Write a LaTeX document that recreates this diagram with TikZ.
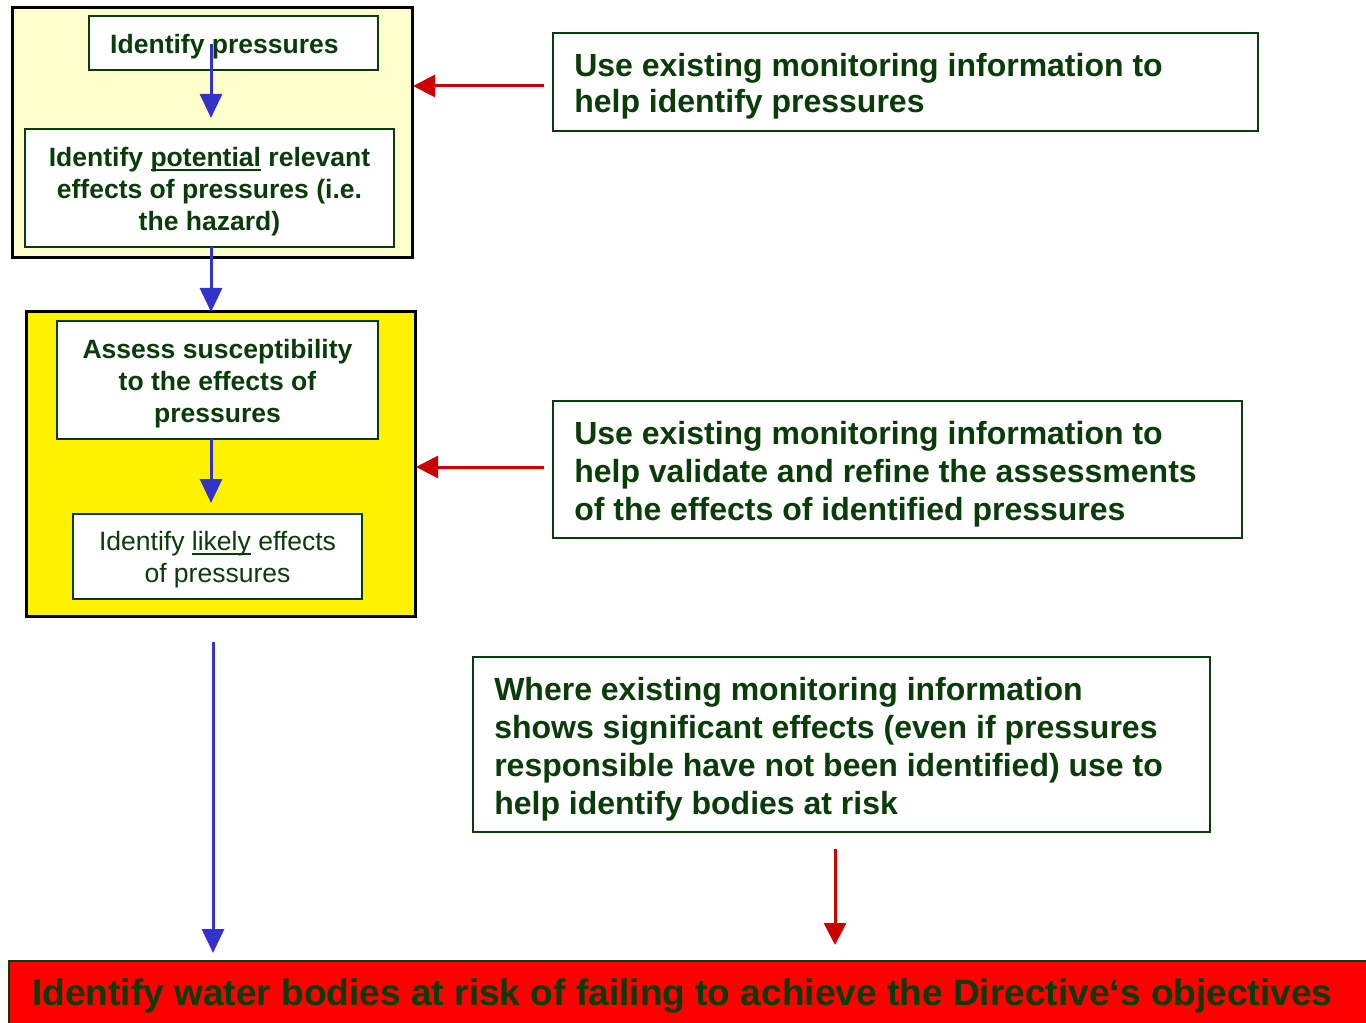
\documentclass[tikz,border=0pt]{standalone}
\usepackage{fontspec}
\setmainfont{Liberation Sans}
\usetikzlibrary{arrows.meta}
\definecolor{txtgreen}{RGB}{10,60,10}
\definecolor{lightyel}{RGB}{255,255,204}
\definecolor{arrblue}{RGB}{51,51,204}
\definecolor{arrred}{RGB}{204,0,0}
\newcommand\myul[1]{\leavevmode\setbox0\hbox{#1}\rlap{\rule[-3.2pt]{\wd0}{1.3pt}}\box0\relax}
\tikzset{
  outer/.style={draw=black, line width=2.25pt, inner sep=0pt},
  frame/.style={draw=txtgreen, line width=1.5pt, fill=white, inner sep=0pt},
  smalltext/.style={text=txtgreen, align=center, inner sep=0pt,
    font=\fontsize{19.9pt}{24pt}\selectfont\bfseries},
  bigtext/.style={text=txtgreen, align=left, inner sep=0pt,
    font=\fontsize{24pt}{28.6pt}\selectfont\bfseries},
  bluearr/.style={draw=arrblue, line width=2.25pt, -{Triangle[width=16.5pt,length=18pt]}, fill=arrblue},
  redarr/.style={draw=arrred, line width=2.25pt, -{Triangle[width=16.5pt,length=16.5pt]}, fill=arrred},
}
\begin{document}
\begin{tikzpicture}[x=0.75pt,y=-0.75pt]
\useasboundingbox (0,0) rectangle (1366,1023);
% outer groups
\node[outer, fill=lightyel, minimum width=300pt, minimum height=187.5pt] (ga) at (212,133) {};
\node[outer, fill=yellow, minimum width=291.75pt, minimum height=228pt] (gb) at (220.5,464) {};
% inner boxes
\node[frame, minimum width=216.75pt, minimum height=40.5pt] (p1) at (233.5,43) {};
\node[frame, minimum width=276.75pt, minimum height=88.5pt] (p2) at (209.5,188) {};
\node[frame, minimum width=240.75pt, minimum height=88.5pt] (p3) at (217.5,380) {};
\node[frame, minimum width=216.75pt, minimum height=63.75pt] (p4) at (217.5,556.5) {};
\node[smalltext] (p1t) at ([xshift=-6.75pt,yshift=-3pt]p1.center) {Identify pressures};
\node[smalltext] (p2t) at ([yshift=-3pt]p2.center)
  {Identify \myul{potential} relevant\\effects of pressures (i.e.\\the hazard)};
\node[smalltext] (p3t) at ([yshift=-3pt]p3.center)
  {Assess susceptibility\\to the effects of\\pressures};
\node[smalltext, font=\fontsize{19.9pt}{24pt}\selectfont] (p4t) at ([yshift=-2.5pt]p4.center)
  {Identify \myul{likely} effects\\of pressures};
% right boxes
\node[frame, minimum width=528.75pt, minimum height=73.5pt] (r1) at (905.5,82) {};
\node[frame, minimum width=516.75pt, minimum height=102.75pt] (r2) at (897.5,469.5) {};
\node[frame, minimum width=552.75pt, minimum height=131.25pt] (r3) at (841.5,744.5) {};
\node[bigtext, font=\fontsize{24pt}{27pt}\selectfont\bfseries, anchor=west] (r1t) at ([xshift=16.5pt,yshift=-3.2pt]r1.west)
  {Use existing monitoring information to\\help identify pressures};
\node[bigtext, anchor=west] (r2t) at ([xshift=16.5pt,yshift=-3.5pt]r2.west)
  {Use existing monitoring information to\\help validate and refine the assessments\\of the effects of identified pressures};
\node[bigtext, anchor=west] (r3t) at ([xshift=16.5pt,yshift=-3.5pt]r3.west)
  {Where existing monitoring information\\shows significant effects (even if pressures\\responsible have not been identified) use to\\help identify bodies at risk};
% bottom bar
\node[draw=txtgreen, line width=1.5pt, fill=red, minimum width=1024.5pt, minimum height=55.5pt, inner sep=0pt] (bar) at (692,998) {};
\node[text=txtgreen, inner sep=0pt, anchor=base west] (bartxt) at (32,1005)
  {\resizebox{975pt}{20pt}{\bfseries Identify water bodies at risk of failing to achieve the Directive‘s objectives}};
% connector end points
\coordinate (a1s) at (211,44);
\coordinate (a1e) at (211,118);
\coordinate (a2s) at (211,247);
\coordinate (a2e) at (211,312);
\coordinate (a3s) at (211,439);
\coordinate (a3e) at (211,503);
\coordinate (a4s) at (213,642);
\coordinate (a4e) at (213,953);
\coordinate (b1s) at (544,86);
\coordinate (b1e) at (413,86);
\coordinate (b2s) at (544,467);
\coordinate (b2e) at (416,467);
\coordinate (b3s) at (835,849);
\coordinate (b3e) at (835,945);
% connectors
\draw[bluearr] (a1s) -- (a1e);
\draw[bluearr] (a2s) -- (a2e);
\draw[bluearr] (a3s) -- (a3e);
\draw[bluearr] (a4s) -- (a4e);
\draw[redarr] (b1s) -- (b1e);
\draw[redarr] (b2s) -- (b2e);
\draw[redarr] (b3s) -- (b3e);
\end{tikzpicture}
\end{document}
